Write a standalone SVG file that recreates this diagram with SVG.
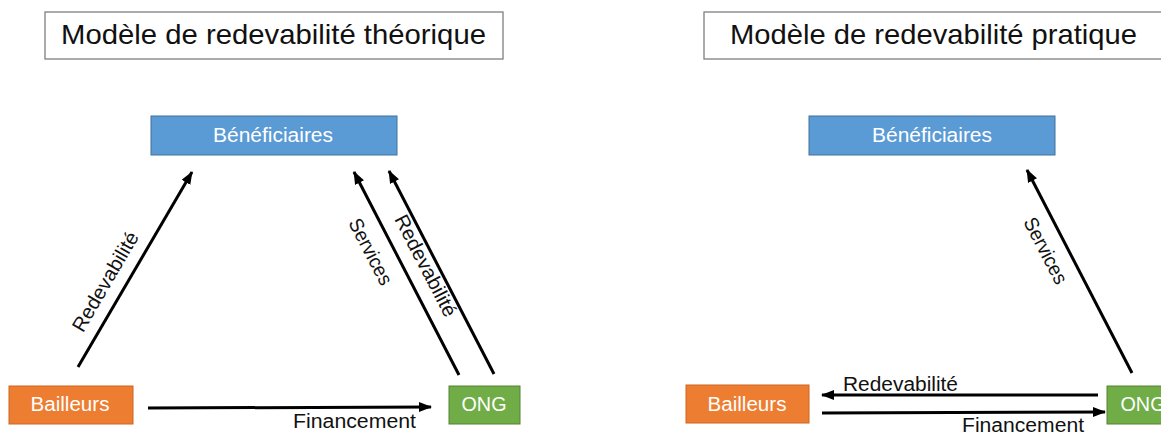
<svg xmlns="http://www.w3.org/2000/svg" width="1161" height="432" viewBox="0 0 1161 432">
<style>
text{font-family:"Liberation Sans",Arial,sans-serif}
.title{fill:#fff;stroke:#7f7f7f;stroke-width:1.3}
.tt{font-size:28px;fill:#111}
.ben{fill:#5B9BD5;stroke:#41719C;stroke-width:1}
.bai{fill:#ED7D31;stroke:#D0651F;stroke-width:1}
.ong{fill:#70AD47;stroke:#548235;stroke-width:1}
.nt{font-size:19.5px;fill:#fff;text-anchor:middle}
.lbl{font-size:20px;fill:#111}
.arr{stroke:#000;stroke-width:3;fill:none;marker-end:url(#ah)}
</style>
<defs>
<marker id="ah" markerUnits="userSpaceOnUse" markerWidth="14" markerHeight="12" refX="12" refY="5" orient="auto">
<path d="M0,0 L13,5 L0,10 z" fill="#000"/>
</marker>
</defs>
<g id="title-theorique"><rect class="title" x="45" y="12" width="458" height="47"/><text class="tt" x="61" y="44" textLength="425" lengthAdjust="spacingAndGlyphs">Modèle de redevabilité théorique</text></g>
<g id="title-pratique"><rect class="title" x="704" y="12" width="470" height="47"/><text class="tt" x="730" y="44" textLength="407" lengthAdjust="spacingAndGlyphs">Modèle de redevabilité pratique</text></g>
<g id="benef-1"><rect class="ben" x="151" y="116" width="246" height="39"/><text class="nt" x="273" y="142" textLength="120" lengthAdjust="spacingAndGlyphs">Bénéficiaires</text></g>
<g id="bailleurs-1"><rect class="bai" x="9" y="386" width="124" height="38"/><text class="nt" x="70" y="411" textLength="79" lengthAdjust="spacingAndGlyphs">Bailleurs</text></g>
<g id="ong-1"><rect class="ong" x="449" y="386" width="71" height="38"/><text class="nt" x="484" y="411" textLength="45" lengthAdjust="spacingAndGlyphs">ONG</text></g>
<g id="benef-2"><rect class="ben" x="809" y="116" width="246" height="39"/><text class="nt" x="932" y="142" textLength="120" lengthAdjust="spacingAndGlyphs">Bénéficiaires</text></g>
<g id="bailleurs-2"><rect class="bai" x="686" y="385" width="123" height="38"/><text class="nt" x="747" y="411" textLength="79" lengthAdjust="spacingAndGlyphs">Bailleurs</text></g>
<g id="ong-2"><rect class="ong" x="1107" y="386" width="71" height="38"/><text class="nt" x="1143" y="411" textLength="45" lengthAdjust="spacingAndGlyphs">ONG</text></g>
<g id="connectors">
<line class="arr" x1="78" y1="367" x2="192" y2="172"/>
<line class="arr" x1="459" y1="375" x2="354" y2="172"/>
<line class="arr" x1="494" y1="374" x2="389" y2="171"/>
<line class="arr" x1="148" y1="408" x2="431" y2="407"/>
<line class="arr" x1="1132" y1="373" x2="1027" y2="170"/>
<line class="arr" x1="1098" y1="395" x2="822" y2="395"/>
<line class="arr" x1="822" y1="413" x2="1105" y2="412"/>
<text class="lbl" transform="translate(106,282) rotate(-59.7)" x="-56" y="6" textLength="112" lengthAdjust="spacingAndGlyphs">Redevabilité</text>
<text class="lbl" transform="translate(370,252) rotate(62.6)" x="-36" y="6" textLength="72" lengthAdjust="spacingAndGlyphs">Services</text>
<text class="lbl" transform="translate(425,266) rotate(62.6)" x="-56" y="6" textLength="112" lengthAdjust="spacingAndGlyphs">Redevabilité</text>
<text class="lbl" x="293" y="428" textLength="123" lengthAdjust="spacingAndGlyphs">Financement</text>
<text class="lbl" transform="translate(1045,251) rotate(62.6)" x="-36" y="6" textLength="72" lengthAdjust="spacingAndGlyphs">Services</text>
<text class="lbl" x="843" y="391" textLength="115" lengthAdjust="spacingAndGlyphs">Redevabilité</text>
<text class="lbl" x="962" y="432" textLength="122" lengthAdjust="spacingAndGlyphs">Financement</text>
</g>
</svg>
